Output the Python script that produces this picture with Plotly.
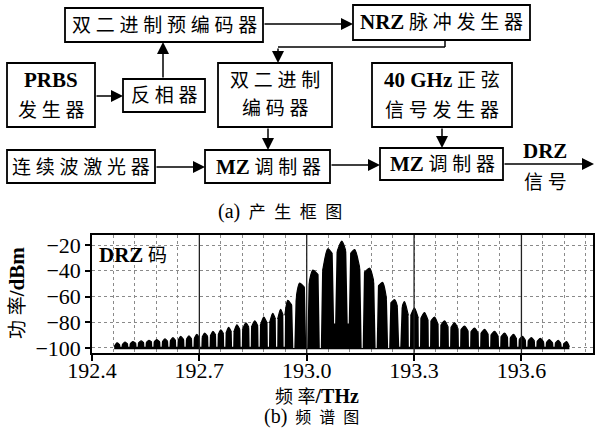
import plotly.graph_objects as go

W, H = 595, 437

# ---------------- data ----------------
x_tickvals = [192.4, 192.7, 193.0, 193.3, 193.6]
x_ticktext = ["192.4", "192.7", "193.0", "193.3", "193.6"]
y_tickvals = [-20, -40, -60, -80, -100]
y_ticktext = ["\u221220", "\u221240", "\u221260", "\u221280", "\u2212100"]

# spectral mound tops (THz, dBm)
mound_thz = [192.470, 192.492, 192.514, 192.537, 192.559, 192.581, 192.604, 192.626,
             192.648, 192.671, 192.693, 192.715, 192.738, 192.760, 192.782, 192.805,
             192.830, 192.855, 192.880, 192.905, 192.927,
             192.947, 192.980, 193.017, 193.059, 193.098, 193.134, 193.176, 193.212, 193.246,
             193.273, 193.301, 193.329, 193.357, 193.385, 193.413, 193.441, 193.469,
             193.497, 193.525, 193.553, 193.578, 193.603, 193.628, 193.653, 193.678,
             193.703, 193.726]
mound_dbm = [-96, -95.5, -95, -94.5, -94, -93.5, -93, -92,
             -91, -90.5, -89.5, -88.5, -87, -86, -84, -82,
             -80.5, -79, -76, -73, -70,
             -63, -49.5, -39.5, -23, -17, -23.5, -38, -49, -62.5,
             -64, -69, -72.5, -76, -79, -80.5, -83, -84.5,
             -85.5, -87, -88.5, -89.5, -91, -92, -92.5, -93.5,
             -94, -95]

# notches between mounds (THz, envelope level at the notch, notch depth) in dBm
notch_thz = [192.481, 192.503, 192.526, 192.548, 192.570, 192.593, 192.615, 192.637,
             192.660, 192.682, 192.704, 192.727, 192.749, 192.771, 192.793, 192.817,
             192.842, 192.867, 192.893, 192.916, 192.937,
             192.964, 193.000, 193.038, 193.078, 193.116, 193.155, 193.194, 193.229,
             193.260,
             193.287, 193.315, 193.343, 193.371, 193.399, 193.427, 193.455, 193.483,
             193.511, 193.539, 193.565, 193.590, 193.615, 193.640, 193.666, 193.691,
             193.714]
notch_top_dbm = [-98, -97.5, -97, -96.5, -96, -96, -95.5, -95,
                 -94.5, -94, -93, -92, -91, -90, -89, -87,
                 -85, -84, -82, -79, -76,
                 -68, -54, -44, -28, -28, -42, -53, -66,
                 -72,
                 -76, -78, -80, -83, -85, -86.5, -88, -89.5,
                 -90.5, -92, -93, -94, -95, -95.5, -96.5, -97,
                 -97.5]
notch_bottom_dbm = ([-99] * 21 + [-100, -100, -100, -81, -81, -100, -100, -100]
                    + [-99] * 18)

edge_thz = [192.462, 193.734]
edge_dbm = [-99, -99]
floor_dbm = -101

# ---------------- helpers ----------------
def px(x):
    return x / W

def py(y):
    return 1 - y / H

LAT = "Liberation Serif, Noto Sans CJK SC"

def lat(s, size=21):
    return '<span style="font-size:%dpx"><b>%s</b></span>' % (size, s)

def cjk(s, sep=" "):
    return sep.join(list(s))

# ---------------- spectrum traces ----------------
env_x = [edge_thz[0]]
env_y = [edge_dbm[0]]
for i in range(len(mound_thz)):
    env_x.append(mound_thz[i])
    env_y.append(mound_dbm[i])
    if i < len(notch_thz):
        env_x.append(notch_thz[i])
        env_y.append(notch_top_dbm[i])
env_x.append(edge_thz[1])
env_y.append(edge_dbm[1])

# white notch cuts: steep, wide-mouthed for the deep lobe notches, thin slits elsewhere
cut_x, cut_y = [], []
for i, (f, t, b) in enumerate(zip(notch_thz, notch_top_dbm, notch_bottom_dbm)):
    depth = t - b
    if depth <= 0:
        continue
    if depth > 25:
        hw, bw = 0.0060, 0.0014
        top = max(mound_dbm[i], mound_dbm[i + 1]) + 1
    else:
        hw, bw = 0.0024, 0.0016
        top = t + 1.5
    cut_x += [f - hw, f + hw, f + bw, f - bw, f - hw, None]
    cut_y += [top, top, b, b, top, None]

fig = go.Figure()
fig.add_trace(go.Scatter(x=edge_thz, y=[floor_dbm, floor_dbm], mode="lines",
                         line=dict(color="black", width=0), showlegend=False, hoverinfo="skip"))
fig.add_trace(go.Scatter(x=env_x, y=env_y, mode="lines", fill="tonexty",
                         fillcolor="black",
                         line=dict(color="black", width=1.2, shape="spline", smoothing=0.8),
                         showlegend=False, hoverinfo="skip"))
fig.add_trace(go.Scatter(x=cut_x, y=cut_y, mode="lines", fill="toself",
                         fillcolor="white", line=dict(color="white", width=0),
                         showlegend=False, hoverinfo="skip"))

# ---------------- axes ----------------
L, R, T, B = 92, 593, 235, 353
YR = [-103.9, -12.2]
fig.update_layout(
    width=W, height=H, margin=dict(l=0, r=0, t=0, b=0, autoexpand=False),
    paper_bgcolor="white", plot_bgcolor="white", hovermode=False,
    xaxis=dict(domain=[px(L), px(R)], range=[192.4, 193.8], automargin=False,
               tickvals=x_tickvals, ticktext=x_ticktext,
               ticks="outside", ticklen=6, tickwidth=1.5, tickcolor="black",
               ticklabelstandoff=-9,
               showline=True, mirror=True, linecolor="black", linewidth=1.5,
               showgrid=False,
               minor=dict(tick0=192.4, dtick=0.06, showgrid=True, gridcolor="#8a8a8a",
                          griddash="dot", gridwidth=1),
               tickfont=dict(family="Liberation Serif", size=22, color="black"),
               zeroline=False),
    yaxis=dict(domain=[py(B), py(T)], range=YR, automargin=False,
               tickvals=y_tickvals, ticktext=y_ticktext,
               ticks="outside", ticklen=5, tickwidth=1.5, tickcolor="black",
               showline=True, mirror=True, linecolor="black", linewidth=1.5,
               showgrid=True, gridcolor="#8a8a8a", griddash="dot", gridwidth=1,
               tickfont=dict(family="Liberation Serif", size=22, color="black"),
               zeroline=False),
)

shapes = []
# major vertical grid lines, drawn above the trace
for tv in x_tickvals[1:]:
    shapes.append(dict(type="line", xref="x", yref="y", x0=tv, x1=tv, y0=YR[0], y1=YR[1],
                       line=dict(color="#222", width=1.3), layer="above"))

# ---------------- block diagram ----------------
boxes = [
    (65, 8, 263, 42),     # 预编码器
    (353, 5, 530, 40),    # NRZ
    (7, 63, 95, 127),     # PRBS
    (123, 79, 205, 112),  # 反相器
    (218, 63, 332, 127),  # 编码器
    (372, 63, 512, 127),  # 40 GHz
    (7, 150, 155, 183),   # 激光器
    (205, 150, 330, 183), # MZ1
    (380, 148, 503, 180), # MZ2
]
for (x0, y0, x1, y1) in boxes:
    shapes.append(dict(type="rect", xref="paper", yref="paper",
                       x0=px(x0), x1=px(x1), y0=py(y1), y1=py(y0),
                       line=dict(color="black", width=1.8), fillcolor="rgba(0,0,0,0)"))
for (x0, y0, x1, y1) in [(445, 40, 445, 47), (445, 47, 278, 47)]:
    shapes.append(dict(type="line", xref="paper", yref="paper",
                       x0=px(x0), x1=px(x1), y0=py(y0), y1=py(y1),
                       line=dict(color="black", width=1.5)))

arrows = [
    ((263, 24), (353, 24)),
    ((278, 47), (278, 63)),
    ((95, 96), (123, 96)),
    ((163, 79), (163, 42)),
    ((155, 167), (205, 167)),
    ((268, 127), (268, 150)),
    ((442, 127), (442, 148)),
    ((330, 165), (380, 165)),
    ((503, 164), (595, 164)),
]
ann = []
for (x0, y0), (x1, y1) in arrows:
    ann.append(dict(x=px(x1), y=py(y1), xref="paper", yref="paper",
                    ax=x0 - x1, ay=y0 - y1, axref="pixel", ayref="pixel",
                    showarrow=True, arrowhead=2, arrowsize=1.6, arrowwidth=1.5,
                    arrowcolor="black", text="", standoff=0, startstandoff=0))

def label(x, y, text, size=19, angle=0):
    ann.append(dict(x=px(x), y=py(y), xref="paper", yref="paper", text=text,
                    showarrow=False, xanchor="center", yanchor="middle", textangle=angle,
                    font=dict(family=LAT, size=size, color="black")))

label(164, 25, cjk("双二进制预编码器"))
label(441, 22, lat("NRZ") + " " + cjk("脉冲发生器"))
label(51, 80, lat("PRBS"))
label(51, 110, cjk("发生器"))
label(164, 96, cjk("反相器"))
label(275, 81, cjk("双二进制"))
label(275, 109, cjk("编码器"))
label(442, 80, lat("40 GHz") + " " + cjk("正弦"))
label(442, 110, cjk("信号发生器"))
label(81, 167, cjk("连续波激光器"))
label(268, 167, lat("MZ") + " " + cjk("调制器"))
label(442, 164, lat("MZ") + " " + cjk("调制器"))
label(545, 151, lat("DRZ"))
label(545, 182, cjk("信号"))
label(280, 211, '<span style="font-size:20px">(a)</span>  ' + cjk("产生框图", "  "), size=17)

# spectrum labels
label(133, 255, lat("DRZ", 21) + " " + "码")
label(17, 293, cjk("功率") + lat("/dBm", 21), size=19, angle=-90)
label(317, 396, cjk("频率") + lat("/THz", 20), size=18)
label(311, 416, '<span style="font-size:20px">(b)</span>  ' + cjk("频谱图", "  "), size=16)

fig.update_layout(shapes=shapes, annotations=ann)
fig.write_html("out.html", config={"displayModeBar": False},
               post_script="document.body.style.margin='0px';")
